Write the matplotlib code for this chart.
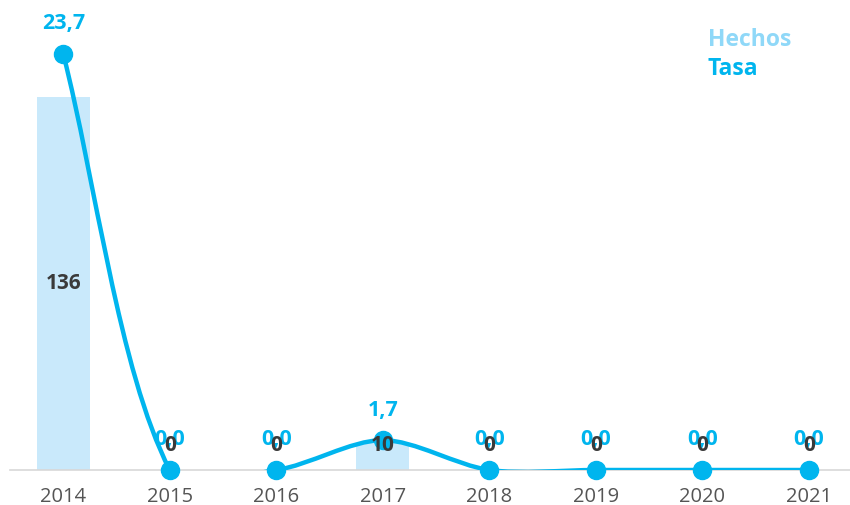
import matplotlib
matplotlib.use("Agg")
import matplotlib.pyplot as plt
import numpy as np
from matplotlib.path import Path
from matplotlib.patches import PathPatch

# ---------------------------------------------------------------------------
# Data
# ---------------------------------------------------------------------------
years = ["2014", "2015", "2016", "2017", "2018", "2019", "2020", "2021"]
hechos = [136, 0, 0, 10, 0, 0, 0, 0]
tasa = [23.7, 0.0, 0.0, 1.7, 0.0, 0.0, 0.0, 0.0]

BAR_COLOR = "#c9e9fb"
LINE_COLOR = "#00b5ee"
LEGEND_HECHOS = "#8fd8f8"
DARK = "#3a3a3a"

plt.rcParams["font.family"] = ["Open Sans", "DejaVu Sans"]


def spline_path(ax, xs, ys, tension=0.3):
    """Smoothed line (cardinal-style bezier computed in pixel space)."""
    pts = ax.transData.transform(np.column_stack([xs, ys]))
    n = len(pts)
    cps = []
    for i in range(n):
        cur = pts[i]
        prev = pts[i - 1] if i > 0 else cur
        nxt = pts[i + 1] if i < n - 1 else cur
        d01 = np.hypot(*(cur - prev))
        d12 = np.hypot(*(nxt - cur))
        tot = d01 + d12
        s01 = d01 / tot if tot else 0
        s12 = d12 / tot if tot else 0
        cps.append((cur - tension * s01 * (nxt - prev), cur + tension * s12 * (nxt - prev)))
    verts = [pts[0]]
    codes = [Path.MOVETO]
    for i in range(1, n):
        verts += [cps[i - 1][1], cps[i][0], pts[i]]
        codes += [Path.CURVE4] * 3
    verts = ax.transData.inverted().transform(np.array(verts))
    return Path(verts, codes)


W, H = 850, 505
fig = plt.figure(figsize=(W / 100, H / 100), dpi=100)
ax = fig.add_axes([10 / W, 35 / H, 852 / W, 460 / H])
x = np.arange(len(years))

ax.bar(x, hechos, width=0.5, color=BAR_COLOR, zorder=1)
ax.set_xlim(-0.5, len(years) - 0.5)
ax.set_ylim(0, 460 / (373 / 136))
ax.set_yticks([])
ax.set_xticks(x)
ax.set_xticklabels(years, fontsize=14.5, color="#555555")
ax.tick_params(axis="x", length=0, pad=12)
for s in ["top", "right", "left"]:
    ax.spines[s].set_visible(False)
ax.spines["bottom"].set_color("#d8d8d8")
ax.spines["bottom"].set_linewidth(1.2)

ax2 = ax.twinx()
ax2.set_ylim(0, 460 / (416 / 23.7))
ax2.set_yticks([])
for s in ax2.spines.values():
    s.set_visible(False)

path = spline_path(ax2, x.astype(float), np.array(tasa))
ax2.add_patch(PathPatch(path, facecolor="none", edgecolor=LINE_COLOR,
                        linewidth=3.2, capstyle="round", zorder=3))
ax2.plot(x, tasa, "o", color=LINE_COLOR, markersize=13, zorder=4, clip_on=False)

for xi, v in zip(x, tasa):
    ax2.annotate(f"{v:.1f}".replace(".", ","), (xi, v), xytext=(0, 30),
                 textcoords="offset pixels", ha="center", va="center",
                 fontsize=15.5, fontweight="bold", color=LINE_COLOR, zorder=6,
                 annotation_clip=False)

# bar labels, drawn above the line
for xi, v in zip(x, hechos):
    ax2.text(xi, max(v / 2, 8.8), f"{v}", ha="center", va="center",
             fontsize=15, fontweight="bold", color=DARK, zorder=7,
             transform=ax.transData)

fig.text(708 / W, 1 - 40 / H, "Hechos", fontsize=16.5, fontweight="bold",
         color=LEGEND_HECHOS, va="center", ha="left")
fig.text(708 / W, 1 - 69 / H, "Tasa", fontsize=16.5, fontweight="bold",
         color=LINE_COLOR, va="center", ha="left")

fig.savefig("out.png", dpi=100)
